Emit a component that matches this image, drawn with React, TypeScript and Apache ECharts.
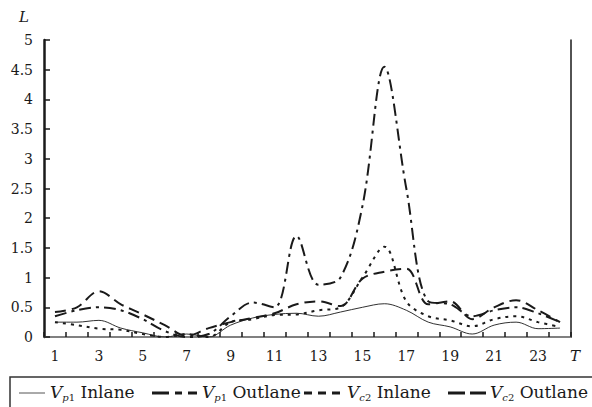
import React, { useEffect, useRef } from "react";
import * as echarts from "echarts";

const hours = ["1","2","3","4","5","6","7","8","9","10","11","12","13","14","15","16","17","18","19","20","21","22","23","24"];
const vp1Inlane = [0.25,0.25,0.28,0.15,0.07,0.0,0.05,0.0,0.2,0.32,0.38,0.4,0.35,0.42,0.5,0.56,0.45,0.25,0.17,0.05,0.2,0.25,0.14,0.15];
const vp1Outlane = [0.35,0.45,0.5,0.45,0.3,0.1,0.0,0.05,0.35,0.58,0.5,1.7,0.88,1.0,2.2,4.55,2.5,0.6,0.55,0.35,0.45,0.5,0.4,0.25];
const vc2Inlane = [0.25,0.2,0.14,0.12,0.05,0.0,0.05,0.0,0.25,0.3,0.37,0.38,0.45,0.5,1.0,1.52,0.6,0.35,0.28,0.18,0.3,0.35,0.25,0.17];
const vc2Outlane = [0.42,0.5,0.77,0.55,0.38,0.2,0.02,0.15,0.25,0.32,0.4,0.55,0.6,0.52,0.98,1.1,1.15,0.55,0.6,0.3,0.5,0.62,0.45,0.25];
const yTicks = { min: 0, max: 5, interval: 0.5 };

const FONT = "DejaVu Serif";
const INK = "#1a1a1a";

export default function App() {
  const ref = useRef<HTMLDivElement>(null);
  useEffect(() => {
    if (!ref.current) return;
    const chart = echarts.init(ref.current, null, { renderer: "svg" });
    const rich = {
      v: { fontFamily: FONT, fontSize: 17, fontStyle: "italic", fill: INK, lineHeight: 20 },
      s: { fontFamily: FONT, fontSize: 10, fontStyle: "italic", fill: INK, lineHeight: 10, verticalAlign: "bottom" },
      s2: { fontFamily: FONT, fontSize: 10, fill: INK, lineHeight: 10, verticalAlign: "bottom" },
      t: { fontFamily: FONT, fontSize: 17, fill: INK, lineHeight: 20 },
    };
    const legendY = 393;
    const legendText = (x: number, sub: string, label: string) => ({
      type: "text",
      x,
      y: legendY - 1,
      style: {
        text: `{v|V}{s|${sub[0]}}{s2|${sub.slice(1)}}{t| ${label}}`,
        rich,
        verticalAlign: "middle",
        fill: INK,
      },
    });
    const legendLine = (x1: number, x2: number, width: number, dash: number[] | null, color = INK) => ({
      type: "line",
      shape: { x1, y1: legendY, x2, y2: legendY },
      style: { stroke: color, lineWidth: width, lineDash: dash || undefined },
    });
    const mkSeries = (name: string, data: number[], width: number, type: any) => ({
      name,
      type: "line",
      data,
      smooth: 0.35,
      symbol: "none",
      lineStyle: { color: INK, width, type },
    });
    chart.setOption({
      animation: false,
      textStyle: { fontFamily: FONT },
      grid: { left: 44, right: 21, top: 40, bottom: 70 },
      xAxis: [
        {
          type: "category",
          data: hours,
          boundaryGap: true,
          axisLine: { lineStyle: { color: INK, width: 2 } },
          axisTick: { show: true, inside: true, interval: 0, length: 5, lineStyle: { color: INK, width: 1.5 } },
          axisLabel: { interval: 1, margin: 12, fontFamily: FONT, fontSize: 14, color: INK },
          splitLine: { show: false },
        },
        {
          type: "category",
          data: hours,
          position: "top",
          axisLine: { show: true, lineStyle: { color: "#808080", width: 2 } },
          axisTick: { show: false },
          axisLabel: { show: false },
        },
      ],
      yAxis: [
        {
          type: "value",
          min: yTicks.min,
          max: yTicks.max,
          interval: yTicks.interval,
          axisLine: { show: true, lineStyle: { color: INK, width: 2.5 } },
          axisTick: { show: true, inside: true, length: 6, lineStyle: { color: INK, width: 1.5 } },
          axisLabel: { margin: 11, fontFamily: FONT, fontSize: 14, color: INK },
          splitLine: { show: false },
        },
        {
          type: "value",
          min: yTicks.min,
          max: yTicks.max,
          interval: yTicks.interval,
          position: "right",
          axisLine: { show: true, lineStyle: { color: INK, width: 1.5 } },
          axisTick: { show: false },
          axisLabel: { show: false },
          splitLine: { show: false },
        },
      ],
      series: [
        mkSeries("Vp1 Inlane", vp1Inlane, 0.9, "solid"),
        mkSeries("Vp1 Outlane", vp1Outlane, 2, [12, 5, 3, 5]),
        mkSeries("Vc2 Inlane", vc2Inlane, 2, [3, 5]),
        mkSeries("Vc2 Outlane", vc2Outlane, 2, [11, 6]),
      ],
      graphic: [
        { type: "text", x: 24, y: 17, style: { text: "L", fontFamily: FONT, fontSize: 15, fontStyle: "italic", fill: INK, align: "center", verticalAlign: "middle" } },
        { type: "text", x: 575, y: 356, style: { text: "T", fontFamily: FONT, fontSize: 15, fontStyle: "italic", fill: INK, align: "center", verticalAlign: "middle" } },
        { type: "rect", shape: { x: 10, y: 377, width: 620, height: 60 }, style: { fill: "none", stroke: "#333", lineWidth: 1.5 } },
        legendLine(19, 45, 1, null, "#555"),
        legendText(50, "p1", "Inlane"),
        legendLine(152, 197, 3, [17, 6, 7, 6, 9, 100]),
        legendText(202, "p1", "Outlane"),
        legendLine(304, 342, 3, [8, 6]),
        legendText(347, "c2", "Inlane"),
        legendLine(448, 486, 3, [17, 5]),
        legendText(490, "c2", "Outlane"),
      ],
    });
    return () => chart.dispose();
  }, []);
  return <div ref={ref} style={{ position: "absolute", left: 0, top: 0, width: 592, height: 407 }} />;
}
